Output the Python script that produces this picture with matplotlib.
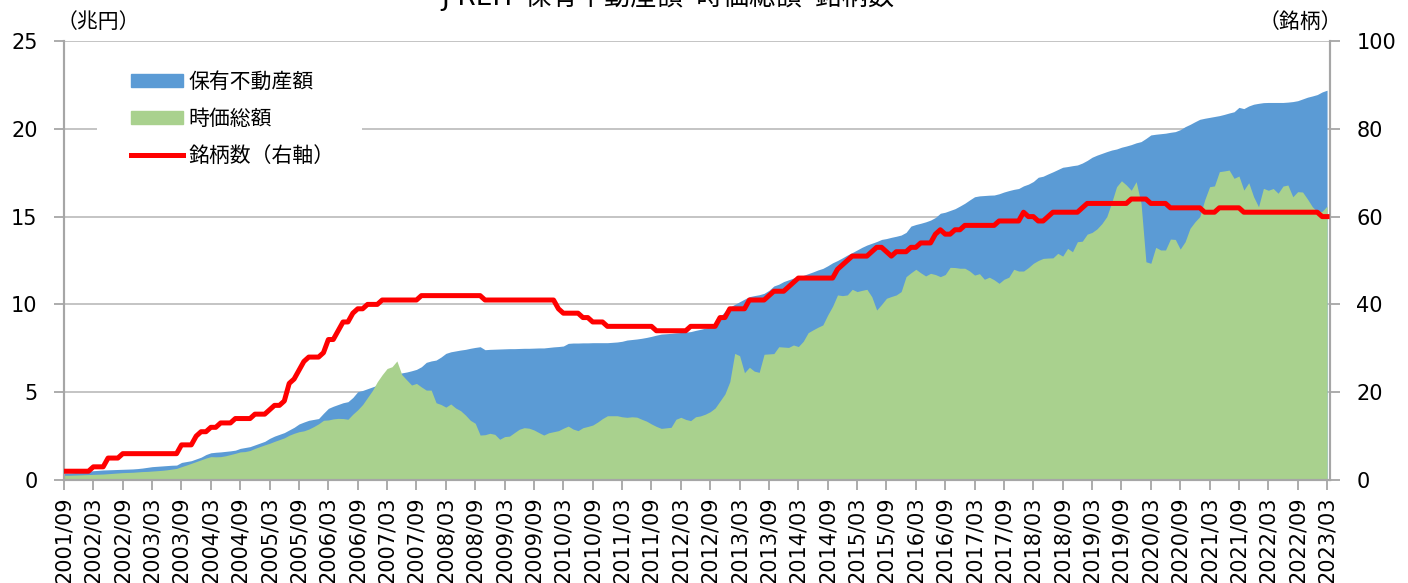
import numpy as np
import pandas as pd
import matplotlib
matplotlib.use('Agg')
import matplotlib.pyplot as plt
from matplotlib.patches import Patch, Rectangle
from matplotlib.lines import Line2D

plt.rcParams['font.family'] = ['DejaVu Sans', 'Noto Sans CJK JP']

# 月次データ 2001/09 - 2023/03 (兆円 / 銘柄)
# 保有不動産額
hoyu = [
    0.40, 0.40, 0.42, 0.45,  # 2001
    0.47, 0.50, 0.53, 0.55, 0.57, 0.58, 0.59, 0.60, 0.61, 0.62, 0.63, 0.65,  # 2002
    0.68, 0.72, 0.76, 0.78, 0.80, 0.82, 0.84, 0.85, 1.00, 1.05, 1.10, 1.20,  # 2003
    1.30, 1.45, 1.55, 1.58, 1.60, 1.63, 1.66, 1.70, 1.80, 1.85, 1.90, 2.00,  # 2004
    2.10, 2.20, 2.37, 2.50, 2.60, 2.70, 2.85, 3.00, 3.19, 3.30, 3.40, 3.45,  # 2005
    3.50, 3.80, 4.08, 4.20, 4.30, 4.40, 4.46, 4.70, 5.03, 5.10, 5.20, 5.30,  # 2006
    5.40, 5.55, 5.70, 5.85, 6.00, 6.10, 6.15, 6.22, 6.30, 6.45, 6.70, 6.78,  # 2007
    6.83, 7.00, 7.21, 7.30, 7.35, 7.40, 7.44, 7.50, 7.55, 7.59, 7.42, 7.44,  # 2008
    7.45, 7.46, 7.47, 7.48, 7.48, 7.49, 7.50, 7.50, 7.51, 7.52, 7.52, 7.55,  # 2009
    7.58, 7.60, 7.63, 7.78, 7.80, 7.80, 7.81, 7.81, 7.82, 7.82, 7.82, 7.82,  # 2010
    7.84, 7.86, 7.90, 7.97, 8.00, 8.03, 8.07, 8.12, 8.18, 8.25, 8.31, 8.33,  # 2011
    8.35, 8.38, 8.40, 8.42, 8.45, 8.52, 8.58, 8.65, 8.73, 9.00, 9.30, 9.60,  # 2012
    9.85, 10.00, 10.15, 10.30, 10.44, 10.50, 10.55, 10.63, 10.80, 11.05, 11.15, 11.30,  # 2013
    11.40, 11.50, 11.58, 11.65, 11.75, 11.85, 11.96, 12.05, 12.20, 12.37, 12.50, 12.65,  # 2014
    12.81, 12.95, 13.10, 13.25, 13.38, 13.48, 13.58, 13.70, 13.75, 13.82, 13.88, 13.95,  # 2015
    14.10, 14.46, 14.55, 14.62, 14.70, 14.80, 14.95, 15.19, 15.25, 15.35, 15.45, 15.60,  # 2016
    15.76, 15.95, 16.13, 16.18, 16.20, 16.22, 16.23, 16.30, 16.40, 16.48, 16.55, 16.60,  # 2017
    16.75, 16.85, 17.00, 17.24, 17.30, 17.43, 17.55, 17.68, 17.81, 17.85, 17.90, 17.94,  # 2018
    18.05, 18.20, 18.38, 18.50, 18.60, 18.70, 18.79, 18.85, 18.95, 19.02, 19.10, 19.20,  # 2019
    19.27, 19.45, 19.65, 19.69, 19.72, 19.75, 19.80, 19.84, 19.95, 20.12, 20.25, 20.40,  # 2020
    20.54, 20.60, 20.65, 20.70, 20.75, 20.82, 20.90, 20.97, 21.22, 21.15, 21.30, 21.40,  # 2021
    21.45, 21.49, 21.50, 21.50, 21.50, 21.50, 21.52, 21.55, 21.60, 21.70, 21.80, 21.87,  # 2022
    21.95, 22.10, 22.20,  # 2023
]

# 時価総額
jika = [
    0.27, 0.27, 0.28, 0.29,  # 2001
    0.30, 0.31, 0.32, 0.33, 0.34, 0.36, 0.38, 0.40, 0.42, 0.43, 0.44, 0.46,  # 2002
    0.48, 0.49, 0.51, 0.53, 0.55, 0.58, 0.62, 0.66, 0.76, 0.85, 0.95, 1.05,  # 2003
    1.15, 1.25, 1.33, 1.32, 1.33, 1.38, 1.45, 1.52, 1.60, 1.62, 1.68, 1.80,  # 2004
    1.90, 2.00, 2.09, 2.20, 2.30, 2.40, 2.55, 2.66, 2.75, 2.80, 2.90, 3.04,  # 2005
    3.20, 3.40, 3.42, 3.48, 3.51, 3.50, 3.46, 3.75, 4.00, 4.30, 4.70, 5.10,  # 2006
    5.60, 6.00, 6.35, 6.45, 6.78, 6.00, 5.70, 5.41, 5.50, 5.30, 5.12, 5.12,  # 2007
    4.40, 4.30, 4.15, 4.33, 4.10, 3.95, 3.70, 3.40, 3.23, 2.56, 2.58, 2.66,  # 2008
    2.60, 2.32, 2.47, 2.50, 2.70, 2.89, 2.98, 2.95, 2.85, 2.70, 2.56, 2.69,  # 2009
    2.75, 2.81, 2.95, 3.07, 2.90, 2.81, 2.98, 3.05, 3.13, 3.30, 3.50, 3.66,  # 2010
    3.66, 3.66, 3.60, 3.57, 3.60, 3.58, 3.46, 3.35, 3.19, 3.05, 2.94, 2.97,  # 2011
    3.00, 3.46, 3.57, 3.45, 3.38, 3.60, 3.65, 3.75, 3.89, 4.10, 4.50, 4.90,  # 2012
    5.60, 7.21, 7.08, 6.11, 6.42, 6.20, 6.13, 7.16, 7.18, 7.20, 7.59, 7.57,  # 2013
    7.55, 7.69, 7.60, 7.90, 8.39, 8.55, 8.70, 8.83, 9.40, 9.90, 10.54, 10.50,  # 2014
    10.54, 10.86, 10.73, 10.80, 10.86, 10.44, 9.68, 10.00, 10.35, 10.45, 10.54, 10.73,  # 2015
    11.58, 11.80, 12.00, 11.80, 11.62, 11.77, 11.70, 11.58, 11.70, 12.11, 12.10, 12.06,  # 2016
    12.06, 11.90, 11.67, 11.75, 11.43, 11.55, 11.40, 11.20, 11.43, 11.55, 12.00, 11.90,  # 2017
    11.90, 12.10, 12.34, 12.50, 12.62, 12.64, 12.65, 12.91, 12.75, 13.19, 13.00, 13.57,  # 2018
    13.60, 14.00, 14.10, 14.30, 14.60, 15.00, 15.80, 16.70, 17.04, 16.80, 16.50, 16.99,  # 2019
    15.76, 12.43, 12.34, 13.25, 13.10, 13.10, 13.72, 13.70, 13.15, 13.57, 14.33, 14.70,  # 2020
    15.00, 15.95, 16.70, 16.75, 17.56, 17.60, 17.65, 17.18, 17.31, 16.51, 16.93, 16.13,  # 2021
    15.56, 16.61, 16.50, 16.60, 16.33, 16.74, 16.80, 16.13, 16.42, 16.40, 16.00, 15.56,  # 2022
    15.28, 15.30, 15.60,  # 2023
]

# 銘柄数（右軸）
meigara = [
    2, 2, 2, 2,  # 2001
    2, 2, 3, 3, 3, 5, 5, 5, 6, 6, 6, 6,  # 2002
    6, 6, 6, 6, 6, 6, 6, 6, 8, 8, 8, 10,  # 2003
    11, 11, 12, 12, 13, 13, 13, 14, 14, 14, 14, 15,  # 2004
    15, 15, 16, 17, 17, 18, 22, 23, 25, 27, 28, 28,  # 2005
    28, 29, 32, 32, 34, 36, 36, 38, 39, 39, 40, 40,  # 2006
    40, 41, 41, 41, 41, 41, 41, 41, 41, 42, 42, 42,  # 2007
    42, 42, 42, 42, 42, 42, 42, 42, 42, 42, 41, 41,  # 2008
    41, 41, 41, 41, 41, 41, 41, 41, 41, 41, 41, 41,  # 2009
    41, 39, 38, 38, 38, 38, 37, 37, 36, 36, 36, 35,  # 2010
    35, 35, 35, 35, 35, 35, 35, 35, 35, 34, 34, 34,  # 2011
    34, 34, 34, 34, 35, 35, 35, 35, 35, 35, 37, 37,  # 2012
    39, 39, 39, 39, 41, 41, 41, 41, 42, 43, 43, 43,  # 2013
    44, 45, 46, 46, 46, 46, 46, 46, 46, 46, 48, 49,  # 2014
    50, 51, 51, 51, 51, 52, 53, 53, 52, 51, 52, 52,  # 2015
    52, 53, 53, 54, 54, 54, 56, 57, 56, 56, 57, 57,  # 2016
    58, 58, 58, 58, 58, 58, 58, 59, 59, 59, 59, 59,  # 2017
    61, 60, 60, 59, 59, 60, 61, 61, 61, 61, 61, 61,  # 2018
    62, 63, 63, 63, 63, 63, 63, 63, 63, 63, 64, 64,  # 2019
    64, 64, 63, 63, 63, 63, 62, 62, 62, 62, 62, 62,  # 2020
    62, 61, 61, 61, 62, 62, 62, 62, 62, 61, 61, 61,  # 2021
    61, 61, 61, 61, 61, 61, 61, 61, 61, 61, 61, 61,  # 2022
    61, 60, 60,  # 2023
]

tsuki = pd.period_range('2001-09', '2023-03', freq='M')
x = np.arange(len(tsuki))
tick_pos = x[::6]
tick_labels = [p.strftime('%Y/%m') for p in tsuki[::6]]

fig = plt.figure(figsize=(14.08, 5.83), dpi=100)
ax = fig.add_axes([64 / 1408, 1 - 480 / 583, (1330 - 64) / 1408, (480 - 41) / 583])
ax2 = ax.twinx()

ax.fill_between(x, 0, hoyu, color='#5B9BD5', lw=0, zorder=1)
ax.fill_between(x, 0, jika, color='#A9D18E', lw=0, zorder=1.2)
ax2.plot(x, meigara, color='#FF0000', lw=3.6, solid_joinstyle='round', zorder=3)

ax.set_xlim(0, len(x) - 0.4)
ax.set_ylim(0, 25)
ax.set_yticks(range(0, 26, 5))
ax2.set_ylim(0, 100)
ax2.set_yticks(range(0, 101, 20))

ax.set_axisbelow(True)
ax.yaxis.grid(True, color='#BFBFBF', lw=1.3)
ax.set_xticks(tick_pos)
ax.set_xticklabels(tick_labels, rotation=90)

gray = '#A6A6A6'
for a in (ax, ax2):
    a.spines['top'].set_visible(False)
    for s in ('left', 'right', 'bottom'):
        a.spines[s].set_color(gray)
        a.spines[s].set_linewidth(1.5)
ax.tick_params(axis='y', length=7, width=1.3, color=gray, pad=12, labelsize=15)
ax.tick_params(axis='x', length=7, width=1.3, color=gray, pad=5, labelsize=15)
ax2.tick_params(axis='y', length=7, width=1.3, color=gray, pad=12, labelsize=15)

# 凡例の背景（グリッド線を隠す）
ax.add_patch(Rectangle(((97 - 64) / 1266, (480 - 165) / 439), (362 - 97) / 1266, 70 / 439,
                       transform=ax.transAxes, facecolor='white', edgecolor='none', zorder=2))

handles = [Patch(color='#5B9BD5'), Patch(color='#A9D18E'), Line2D([], [], color='#FF0000', lw=3.6)]
labels = ['保有不動産額', '時価総額', '銘柄数（右軸）']
ax2.legend(handles, labels, loc='upper left', bbox_to_anchor=((131 - 64) / 1266, (480 - 72) / 439),
           frameon=False, fontsize=15, handlelength=2.5, handleheight=0.6, handletextpad=0.25,
           labelspacing=0.82, borderpad=0, borderaxespad=0)

fig.text(57 / 1408, 1 - 22 / 583, '（兆円）', fontsize=15, ha='left', va='center')
fig.text(1342 / 1408, 1 - 22 / 583, '（銘柄）', fontsize=15, ha='right', va='center')
fig.text(668 / 1408, 1.006, 'J-REIT 保有不動産額･時価総額･銘柄数', fontsize=19, ha='center', va='center')

fig.savefig('out.png', dpi=100)
